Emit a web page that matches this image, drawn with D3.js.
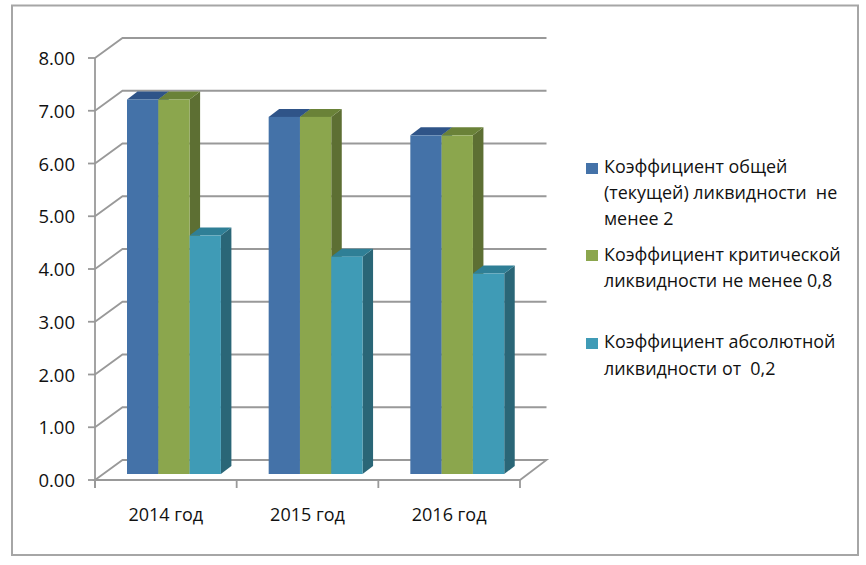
<!DOCTYPE html>
<html><head><meta charset="utf-8">
<script src="https://cdn.jsdelivr.net/npm/d3@7"></script>
<style>html,body{margin:0;padding:0;background:#fff}svg{display:block}text{font-family:"Open Sans","Noto Sans",sans-serif;fill:#111}</style>
</head><body><div id="c"></div>
<script>
const categories = ["2014 год","2015 год","2016 год"];
const seriesNames = ["general","critical","absolute"];
const generalRatio = [7.1,6.77,6.42];
const criticalRatio = [7.1,6.77,6.42];
const absoluteRatio = [4.52,4.12,3.8];
const yTicks = [0,1,2,3,4,5,6,7,8];
const legendLines = [
 ["Коэффициент общей","(текущей) ликвидности  не","менее 2"],
 ["Коэффициент критической","ликвидности не менее 0,8"],
 ["Коэффициент абсолютной","ликвидности от  0,2"]];
const frontColors = ["#4472a8","#8ba64d","#3f9bb6"];
const topColors = ["#2f5488","#6a8238","#2f7f96"];
const sideColors = ["#2f5488","#5d6f33","#2a6677"];
const seriesValues = [generalRatio,criticalRatio,absoluteRatio];

const W=866,H=565;
const svg=d3.select("#c").append("svg").attr("width",W).attr("height",H);
svg.append("rect").attr("x",12).attr("y",5.5).attr("width",846).attr("height",549.5)
  .attr("fill","#fff").attr("stroke","#a6a6a6").attr("stroke-width",2);

const x0=d3.scaleBand().domain(categories).range([95,520]);
const y=d3.scaleLinear().domain([0,8]).range([480,58]);
const DX=27.5, DY=-20;           // wall depth
const barInset=32, barW=31.3, BDX=10.5, BDY=-8, barLift=-6;
const xs=d3.scaleBand().domain(seriesNames).range([0,barW*3]);

const grid="#999";
const g=svg.append("g").attr("fill","none").attr("stroke",grid).attr("stroke-width",1.8);
yTicks.forEach(t=>{
  const p=y(t);
  if(t>0) g.append("path").attr("d",`M95,${p}L${95+DX},${p+DY}L${520+DX-1},${p+DY}`);
  g.append("line").attr("x1",88).attr("x2",95).attr("y1",p).attr("y2",p);
});
const floorY=y(0);
g.append("path").attr("d",`M95,${floorY}L${95+DX},${floorY+DY}L${520+DX-1},${floorY+DY}L520,${floorY}Z`);
g.append("line").attr("x1",95).attr("x2",95).attr("y1",y(8)).attr("y2",floorY+8);
[...categories.map(c=>x0(c)),520].forEach(v=>g.append("line").attr("x1",v).attr("x2",v).attr("y1",floorY).attr("y2",floorY+8));

categories.forEach((c,i)=>{
  seriesNames.forEach((s,j)=>{
    const v=seriesValues[j][i];
    const l=x0(c)+barInset+xs(s), r=l+xs.bandwidth();
    const t=y(v)+barLift, b=y(0)+barLift;
    svg.append("path").attr("fill",sideColors[j]).attr("d",`M${r},${t}L${r+BDX},${t+BDY}L${r+BDX},${b+BDY}L${r},${b}Z`);
    svg.append("path").attr("fill",topColors[j]).attr("d",`M${l},${t}L${l+BDX},${t+BDY}L${r+BDX},${t+BDY}L${r},${t}Z`);
    svg.append("rect").attr("fill",frontColors[j]).attr("x",l).attr("y",t).attr("width",r-l).attr("height",b-t);
  });
});

yTicks.forEach(t=>svg.append("text").attr("x",75).attr("y",y(t)+7).attr("text-anchor","end")
  .attr("font-size",18.5).text(t.toFixed(2)));
categories.forEach(c=>svg.append("text").attr("x",x0(c)+x0.bandwidth()/2).attr("y",520.5).attr("text-anchor","middle")
  .attr("font-size",18).text(c));

const legendY=[[173,199,225],[261,287],[348,375]];
const swatchY=[163,250,338];
legendLines.forEach((ls,i)=>{
  svg.append("rect").attr("x",586).attr("y",swatchY[i]).attr("width",12).attr("height",11).attr("fill",frontColors[i]);
  ls.forEach((t,k)=>svg.append("text").attr("x",604).attr("y",legendY[i][k]).attr("font-size",17.9)
    .attr("xml:space","preserve").style("white-space","pre").text(t));
});
</script></body></html>
